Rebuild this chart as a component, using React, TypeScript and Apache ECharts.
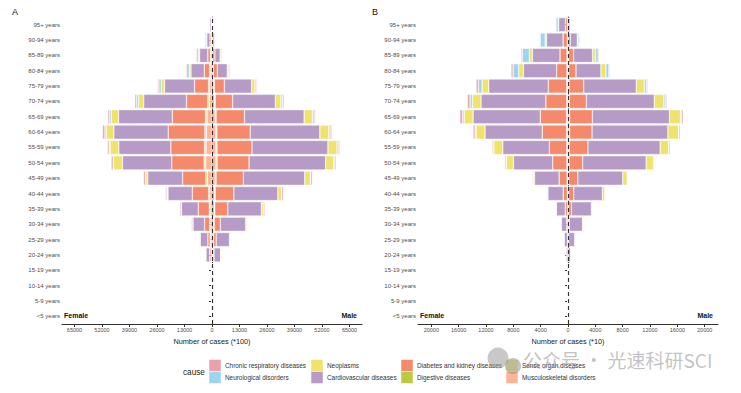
import React, { useEffect, useRef } from "react";
import * as echarts from "echarts";

const ages = ["<5 years","5-9 years","10-14 years","15-19 years","20-24 years","25-29 years","30-34 years","35-39 years","40-44 years","45-49 years","50-54 years","55-59 years","60-64 years","65-69 years","70-74 years","75-79 years","80-84 years","85-89 years","90-94 years","95+ years"];

const causeNames = ["Musculoskeletal disorders","Sense organ diseases","Digestive diseases","Diabetes and kidney diseases","Cardiovascular diseases","Neoplasms","Neurological disorders","Chronic respiratory diseases"];
const causeColors = ["#FCB49B","#F6EB94","#BFC940","#F4896B","#B59BC6","#EFE36C","#9DD5EE","#E9A3A8"];

// Panel A (*100), female
const aFemMusc = [0,0,0,0,470,800,950,950,1100,2200,3000,2840,2680,2400,1260,1100,950,600,300,150];
const aFemSense = [0,0,0,0,0,0,0,20,30,50,80,80,80,80,60,50,30,20,10,0];
const aFemDigest = [0,0,0,0,0,50,150,300,470,630,630,630,630,600,630,470,150,100,50,20];
const aFemDiab = [0,0,0,0,630,1100,2400,5200,7700,11000,15300,15900,17300,15700,10100,6600,2500,1250,600,200];
const aFemCardio = [0,0,0,0,1750,3600,5500,8000,11500,16500,23300,24600,25700,25400,20200,14200,6300,3900,1500,700];
const aFemNeo = [0,0,0,0,0,0,100,150,470,950,4250,4100,3620,3450,2500,1580,800,600,150,50];
const aFemNeuro = [0,0,0,0,0,0,0,0,50,100,150,470,630,800,950,1100,1250,950,700,200];
const aFemChronic = [0,0,0,0,230,300,600,630,630,950,950,800,1100,800,800,630,470,300,100,80];

// Panel A (*100), male
const aMalMusc = [0,0,0,0,470,630,950,1100,1260,1580,1900,1900,1900,1580,1260,950,470,240,100,50];
const aMalSense = [0,0,0,0,0,0,0,20,30,50,60,60,60,60,50,40,30,20,10,0];
const aMalDigest = [0,0,0,0,50,100,150,200,250,300,470,400,350,300,230,150,100,50,20,0];
const aMalDiab = [0,0,0,0,470,1260,2840,6150,8800,12900,15100,16550,15760,13400,8200,4700,1900,1050,300,50];
const aMalCardio = [0,0,0,0,3150,6300,12000,15900,20800,29000,36200,35900,32900,28200,20200,12900,4700,2500,900,300];
const aMalNeo = [0,0,0,0,0,300,630,950,1730,2680,3780,4250,4250,3940,2680,1580,630,470,80,20];
const aMalNeuro = [0,0,0,0,0,0,0,0,100,150,470,630,630,800,800,630,630,470,150,100];
const aMalChronic = [0,0,0,0,300,150,300,630,800,800,630,630,800,630,630,470,300,150,50,20];

// Panel B (*10), female
const bFemMusc = [0,0,0,0,0,20,40,60,80,100,120,130,140,140,120,120,100,100,50,50];
const bFemSense = [0,0,0,0,0,0,0,0,10,10,20,20,30,30,30,30,30,20,20,10];
const bFemDigest = [0,0,0,0,0,0,0,10,10,20,30,30,40,40,40,40,30,30,20,10];
const bFemDiab = [0,0,0,0,40,60,160,330,600,1170,2070,2550,3560,3850,3050,2700,1500,1020,630,290];
const bFemCardio = [0,0,0,0,230,480,780,1310,2240,3600,5740,6810,8370,9830,9490,8710,4870,4040,2430,1020];
const bFemNeo = [0,0,0,0,0,0,0,40,70,190,1070,1310,1310,1310,1260,970,680,440,190,50];
const bFemNeuro = [0,0,0,0,0,0,0,0,0,0,30,50,150,240,340,540,830,1020,730,340];
const bFemChronic = [0,0,0,0,20,20,40,70,100,100,190,190,290,390,390,340,290,190,100,50];

// Panel B (*10), male
const bMalMusc = [0,0,0,0,0,30,40,50,70,90,110,130,150,150,120,100,60,50,30,10];
const bMalSense = [0,0,0,0,0,0,0,0,10,10,20,20,30,30,30,30,20,20,10,0];
const bMalDigest = [0,0,0,0,0,0,0,10,10,20,30,30,40,40,40,30,30,20,10,0];
const bMalDiab = [0,0,0,0,40,50,150,440,760,1320,1980,2740,3300,3350,2510,2140,1060,730,290,100];
const bMalCardio = [0,0,0,0,420,970,1950,2920,4190,6570,9300,10560,11100,11290,9930,7690,3650,2770,1020,200];
const bMalNeo = [0,0,0,0,0,0,120,190,390,680,1070,1270,1560,1610,1410,1170,730,440,100,0];
const bMalNeuro = [0,0,0,0,0,0,0,0,0,0,0,30,50,150,240,290,440,390,240,120];
const bMalChronic = [0,0,0,0,20,20,30,50,100,50,100,190,190,240,190,190,150,150,50,20];

const ticksA = [-65000,-52000,-39000,-26000,-13000,0,13000,26000,39000,52000,65000];
const ticksB = [-20000,-16000,-12000,-8000,-4000,0,4000,8000,12000,16000,20000];

const legendCols = [
  ["Chronic respiratory diseases", "Neurological disorders"],
  ["Neoplasms", "Cardiovascular diseases"],
  ["Diabetes and kidney diseases", "Digestive diseases"],
  ["Sense organ diseases", "Musculoskeletal disorders"],
];

const FONT = "Liberation Sans, Arial, Helvetica, sans-serif";

export default function App() {
  const ref = useRef<HTMLDivElement>(null);
  useEffect(() => {
    if (!ref.current) return;
    const chart = echarts.init(ref.current, null, { renderer: "svg" });
    const panels = [
      { fem: [aFemMusc,aFemSense,aFemDigest,aFemDiab,aFemCardio,aFemNeo,aFemNeuro,aFemChronic],
        mal: [aMalMusc,aMalSense,aMalDigest,aMalDiab,aMalCardio,aMalNeo,aMalNeuro,aMalChronic] },
      { fem: [bFemMusc,bFemSense,bFemDigest,bFemDiab,bFemCardio,bFemNeo,bFemNeuro,bFemChronic],
        mal: [bMalMusc,bMalSense,bMalDigest,bMalDiab,bMalCardio,bMalNeo,bMalNeuro,bMalChronic] },
    ];
    const series: any[] = [];
    panels.forEach((p, pi) => {
      causeNames.forEach((name, ci) => {
        const common = {
          type: "bar", name, xAxisIndex: pi, yAxisIndex: pi, stack: "P" + pi,
          barCategoryGap: "8%",
          itemStyle: { color: causeColors[ci], borderColor: "rgba(255,255,255,0.85)", borderWidth: 0.5 },
          emphasis: { disabled: true },
        };
        series.push({ ...common, data: p.fem[ci].map((v) => -v) });
        series.push({ ...common, data: p.mal[ci] });
      });
      series.push({
        type: "line", xAxisIndex: pi, yAxisIndex: pi, data: [], z: 10,
        markLine: {
          silent: true, symbol: ["none", "none"], label: { show: false },
          lineStyle: { type: [4, 3], color: "#333", width: 1.1 },
          data: [{ xAxis: 0 }],
        },
      });
    });

    const mkX = (pi: number, lim: number, ticks: number[], name: string) => ({
      gridIndex: pi, type: "value", min: -lim, max: lim,
      axisLine: { show: true, lineStyle: { color: "#333", width: 1.1 } },
      axisTick: { show: true, length: 3, customValues: ticks, lineStyle: { color: "#333" } },
      axisLabel: { customValues: ticks, formatter: (v: number) => String(Math.abs(v)), fontSize: 5.5, color: "#4d4d4d", margin: 3, fontFamily: FONT },
      splitLine: { show: false },
      name, nameLocation: "middle", nameGap: 9,
      nameTextStyle: { fontSize: 7.3, color: "#222", fontFamily: FONT },
    });
    const mkY = (pi: number) => ({
      gridIndex: pi, type: "category", data: ages,
      axisLine: { show: true, lineStyle: { color: "#333", width: 1.1 } },
      axisTick: { show: true, length: 3, alignWithLabel: true, lineStyle: { color: "#333" } },
      axisLabel: { fontSize: 6, color: "#4d4d4d", margin: 2, fontFamily: FONT },
      splitLine: { show: false },
    });

    const graphics: any[] = [
      { type: "text", left: 12, top: 7, style: { text: "A", fontSize: 9, fill: "#111", fontFamily: FONT } },
      { type: "text", left: 372, top: 7, style: { text: "B", fontSize: 9, fill: "#111", fontFamily: FONT } },
      { type: "text", x: 64, y: 315, style: { text: "Female", fontSize: 7, fontWeight: "bold", fill: "#111", textVerticalAlign: "middle", fontFamily: FONT } },
      { type: "text", x: 357, y: 315, style: { text: "Male", fontSize: 7, fontWeight: "bold", fill: "#111", textAlign: "right", textVerticalAlign: "middle", fontFamily: FONT } },
      { type: "text", x: 420, y: 315, style: { text: "Female", fontSize: 7, fontWeight: "bold", fill: "#111", textVerticalAlign: "middle", fontFamily: FONT } },
      { type: "text", x: 713, y: 315, style: { text: "Male", fontSize: 7, fontWeight: "bold", fill: "#111", textAlign: "right", textVerticalAlign: "middle", fontFamily: FONT } },
      { type: "text", x: 183, y: 372, style: { text: "cause", fontSize: 8.2, fill: "#222", textVerticalAlign: "middle", fontFamily: FONT } },
    ];
    const colKeyX = [209, 311, 401, 506];
    const rowY = [359.5, 371.5];
    legendCols.forEach((col, c) => {
      col.forEach((nm, r) => {
        const idx = causeNames.indexOf(nm);
        graphics.push({ type: "rect", shape: { x: colKeyX[c], y: rowY[r], width: 12, height: 12 }, style: { fill: causeColors[idx], stroke: "#fff", lineWidth: 0.5 } });
        graphics.push({ type: "text", x: colKeyX[c] + 16, y: rowY[r] + 6, style: { text: nm, fontSize: 6.4, fill: "#333", textVerticalAlign: "middle", fontFamily: FONT } });
      });
    });
    // watermark overlay
    graphics.push(
      { type: "circle", shape: { cx: 498, cy: 358, r: 10.5 }, style: { fill: "#9a9a9a", opacity: 0.55 }, z: 20 },
      { type: "circle", shape: { cx: 513, cy: 366, r: 8 }, style: { fill: "#8a8a8a", opacity: 0.5 }, z: 20 },
      { type: "text", x: 523, y: 359, z: 20, style: { text: "公众号 · 光速科研SCI", fontSize: 19, fill: "#9a9a9a", opacity: 0.6, textVerticalAlign: "middle", fontFamily: "Noto Sans CJK SC" } },
    );

    chart.setOption({
      animation: false,
      backgroundColor: "#fff",
      textStyle: { fontFamily: FONT },
      grid: [
        { left: 62, top: 17, width: 300, height: 307 },
        { left: 418, top: 17, width: 300, height: 307 },
      ],
      xAxis: [mkX(0, 70900, ticksA, "Number of cases (*100)"), mkX(1, 21950, ticksB, "Number of cases (*10)")],
      yAxis: [mkY(0), mkY(1)],
      series,
      graphic: graphics,
    });
    return () => chart.dispose();
  }, []);
  return <div ref={ref} style={{ position: "fixed", left: 0, top: 0, width: 741, height: 393, background: "#fff" }} />;
}
